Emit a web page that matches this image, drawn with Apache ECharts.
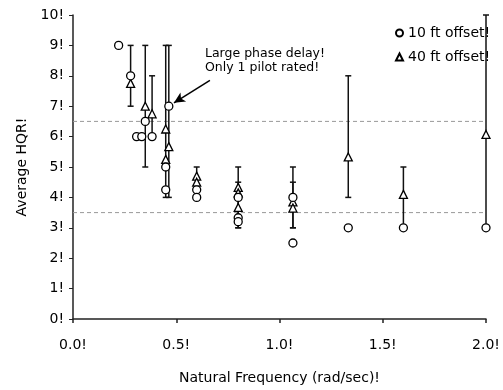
<!DOCTYPE html>
<html><head><meta charset="utf-8">
<script src="https://cdn.jsdelivr.net/npm/echarts@6/dist/echarts.min.js"></script>
<style>html,body{margin:0;padding:0;background:#fff}#c{width:503px;height:390px}</style>
</head><body><div id="c"></div>
<script>
// ---- data ----
var xTickLabels = ['0.0!', '0.5!', '1.0!', '1.5!', '2.0!'];
var yTickLabels = ['0!', '1!', '2!', '3!', '4!', '5!', '6!', '7!', '8!', '9!', '10!'];
var seriesNames = ['10 ft offset!', '40 ft offset!'];
var offset10 = [
  [0.221, 9], [0.279, 8], [0.308, 6], [0.333, 6], [0.350, 6.5], [0.383, 6],
  [0.464, 7], [0.449, 5], [0.449, 4.25],
  [0.599, 4.25], [0.599, 4.0],
  [0.800, 4.0], [0.800, 3.33], [0.800, 3.2],
  [1.065, 4.0], [1.065, 2.5],
  [1.333, 3], [1.600, 3], [2.000, 3]
];
var offset40 = [
  [0.279, 7.75], [0.350, 7.0], [0.383, 6.75],
  [0.449, 6.25], [0.464, 5.67], [0.449, 5.25],
  [0.599, 4.7], [0.599, 4.5],
  [0.800, 4.33], [0.800, 4.15], [0.800, 3.67],
  [1.065, 3.85], [1.065, 3.65],
  [1.333, 5.33], [1.600, 4.1], [2.000, 6.07]
];
// [x, low, high]
var ranges = [
  [0.279, 7, 9], [0.350, 5, 9], [0.383, 6, 8],
  [0.449, 4, 9], [0.464, 4, 9],
  [0.599, 4, 5],
  [0.800, 3, 5], [0.800, 3, 4.5],
  [1.065, 3, 5], [1.065, 3, 4.5],
  [1.333, 4, 8], [1.600, 3, 5], [2.000, 3, 10]
];
var refLevels = [6.5, 3.5];
var noteLines = ['Large phase delay!', 'Only 1 pilot rated!'];
var arrowFrom = [0.663, 7.85];
var arrowTo = [0.489, 7.11];

var FONT = '"DejaVu Sans", sans-serif';
var chart = echarts.init(document.getElementById('c'), null, {renderer: 'canvas'});

function renderRange(params, api) {
  var x = api.value(0), lo = api.value(1), hi = api.value(2);
  var a = api.coord([x, lo]), b = api.coord([x, hi]);
  var w = 3;
  var st = {stroke: '#111', lineWidth: 1.5};
  return {type: 'group', children: [
    {type: 'line', shape: {x1: a[0], y1: a[1], x2: b[0], y2: b[1]}, style: st},
    {type: 'line', shape: {x1: b[0] - w, y1: b[1], x2: b[0] + w, y2: b[1]}, style: st},
    {type: 'line', shape: {x1: a[0] - w, y1: a[1], x2: a[0] + w, y2: a[1]}, style: st}
  ]};
}

var refSeries = refLevels.map(function (v) {
  return {
    type: 'line', data: [[0, v], [2, v]], symbol: 'none', silent: true,
    lineStyle: {color: '#999', width: 1, type: [4, 3]}, z: 1
  };
});

var option = {
  animation: false,
  backgroundColor: '#fff',
  textStyle: {fontFamily: FONT},
  grid: {left: 73, right: 17, top: 15, bottom: 65, containLabel: false},
  legend: {
    orient: 'vertical', left: 390, top: 21,
    itemWidth: 7, itemHeight: 7, itemGap: 10,
    data: seriesNames,
    textStyle: {fontFamily: FONT, fontSize: 14, color: '#000'}
  },
  xAxis: {
    type: 'value', min: 0, max: 2, interval: 0.5,
    name: 'Natural Frequency (rad/sec)!', nameLocation: 'middle', nameGap: 52,
    nameTextStyle: {fontFamily: FONT, fontSize: 14, color: '#000'},
    axisLine: {lineStyle: {color: '#222', width: 1.5}},
    axisTick: {show: true, inside: false, length: 4, lineStyle: {color: '#222', width: 1.5}},
    splitLine: {show: false},
    axisLabel: {
      margin: 19, fontFamily: FONT, fontSize: 14, color: '#000',
      formatter: function (v) { return xTickLabels[Math.round(v / 0.5)]; }
    }
  },
  yAxis: {
    type: 'value', min: 0, max: 10, interval: 1,
    name: 'Average HQR!', nameLocation: 'middle', nameGap: 44, nameRotate: 90,
    nameTextStyle: {fontFamily: FONT, fontSize: 14, color: '#000'},
    axisLine: {show: true, lineStyle: {color: '#222', width: 1.5}},
    axisTick: {show: true, inside: false, length: 4, lineStyle: {color: '#222', width: 1}},
    splitLine: {show: false},
    axisLabel: {
      margin: 9, fontFamily: FONT, fontSize: 14, color: '#000',
      formatter: function (v) { return yTickLabels[Math.round(v)]; }
    }
  },
  series: refSeries.concat([
    {
      type: 'custom', renderItem: renderRange, data: ranges, z: 2, silent: true,
      encode: {x: 0, y: [1, 2]}
    },
    {
      name: seriesNames[0], type: 'scatter', data: offset10, symbol: 'circle', symbolSize: 8,
      itemStyle: {color: '#fff', borderColor: '#000', borderWidth: 1.3, opacity: 1}, z: 4,
      markLine: {
        silent: true, symbol: ['none', 'arrow'], symbolSize: [8, 11],
        lineStyle: {color: '#000', width: 1.5, type: 'solid'},
        label: {show: false},
        data: [[{coord: arrowFrom}, {coord: arrowTo}]]
      }
    },
    {
      name: seriesNames[1], type: 'scatter', data: offset40, symbol: 'triangle', symbolSize: 8,
      itemStyle: {color: '#fff', borderColor: '#000', borderWidth: 1.3, opacity: 1}, z: 3
    }
  ]),
  graphic: [{
    type: 'text', left: 205, top: 46,
    style: {text: noteLines.join('\n'), font: '12.5px ' + FONT, fill: '#000', lineHeight: 14.5}
  }]
};
chart.setOption(option);
</script></body></html>
